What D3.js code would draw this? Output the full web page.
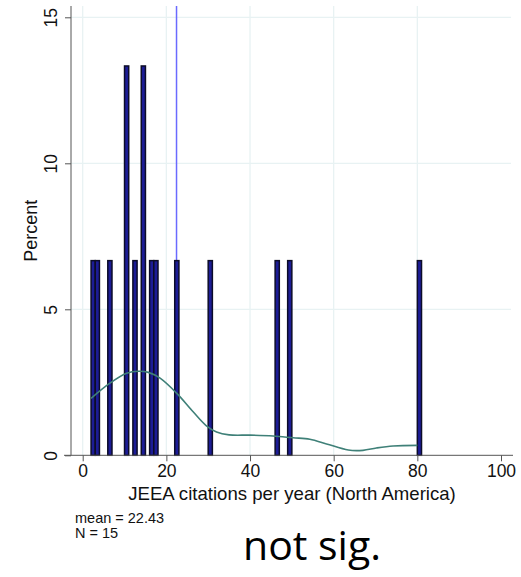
<!DOCTYPE html>
<html>
<head>
<meta charset="utf-8">
<script src="https://cdn.jsdelivr.net/npm/d3@7"></script>
<style>
  body { margin: 0; background: #fff; }
  svg { display: block; }
</style>
</head>
<body>
<div id="chart"></div>
<script>
const citations = [2.3, 3.2, 6.4, 10.3, 10.7, 12.4, 14.2, 14.8, 16.3, 17.6, 22.4, 30.2, 46.3, 49.15, 80.2];
// kernel density overlay (x, percent)
const density_x = [2.0, 6.5, 10.5, 13.3, 15.7, 18.5, 22.5, 26.4, 29.5, 32, 35, 40, 45.5, 50.3, 54.3, 58.3, 63.5, 67, 70.2, 74.2, 80];
const density_y = [1.95, 2.47, 2.81, 2.88, 2.84, 2.64, 2.12, 1.49, 1.02, 0.80, 0.70, 0.69, 0.66, 0.60, 0.55, 0.39, 0.18, 0.17, 0.25, 0.32, 0.34];
const x_ticks = [0, 20, 40, 60, 80, 100];
const y_ticks = [0, 5, 10, 15];

const width = 521, height = 577;
const font = "'Liberation Sans', Arial, sans-serif";

const x = d3.scaleLinear().domain([0, 100]).range([82.7, 501]);
const y = d3.scaleLinear().domain([0, 15]).range([455.3, 17.3]);

const svg = d3.select("#chart").append("svg")
    .attr("width", width)
    .attr("height", height)
    .attr("style", `font-family: ${font};`);

// grid
svg.append("g")
    .selectAll("line")
    .data(x_ticks.slice(0, -1))
    .join("line")
    .attr("x1", d => x(d)).attr("x2", d => x(d))
    .attr("y1", 6).attr("y2", y(0))
    .attr("stroke", "#e8f2f3").attr("stroke-width", 1.3);

svg.append("g")
    .selectAll("line")
    .data(y_ticks.slice(1))
    .join("line")
    .attr("x1", 71).attr("x2", 511)
    .attr("y1", d => y(d)).attr("y2", d => y(d))
    .attr("stroke", "#e8f2f3").attr("stroke-width", 1.3);

// mean line
const mean = d3.mean(citations);
svg.append("line")
    .attr("x1", x(mean)).attr("x2", x(mean))
    .attr("y1", 6).attr("y2", y(0))
    .attr("stroke", "#6a6aff").attr("stroke-width", 1.5);

// histogram, bin width 1
const bins = d3.bin()
    .domain([0, 100])
    .thresholds(d3.range(0, 101, 1))(citations)
    .filter(b => b.length > 0);

svg.append("g")
    .selectAll("rect")
    .data(bins)
    .join("rect")
    .attr("x", d => x(d.x0))
    .attr("width", d => x(d.x1) - x(d.x0))
    .attr("y", d => y(d.length / citations.length * 100))
    .attr("height", d => y(0) - y(d.length / citations.length * 100))
    .attr("fill", "#1c1c96")
    .attr("stroke", "#0c0c28")
    .attr("stroke-width", 1.5);

// density curve
svg.append("path")
    .datum(d3.zip(density_x, density_y))
    .attr("fill", "none")
    .attr("stroke", "#3f8078")
    .attr("stroke-width", 1.6)
    .attr("d", d3.line().x(d => x(d[0])).y(d => y(d[1])).curve(d3.curveCatmullRom));

// axes
const x_axis = svg.append("g")
    .attr("transform", `translate(0,${y(0)})`)
    .call(d3.axisBottom(x).tickValues(x_ticks).tickSize(6).tickPadding(3).tickSizeOuter(0));
x_axis.select(".domain").attr("d", "M64,0H513");
x_axis.selectAll("line, path").attr("stroke", "#555");
x_axis.selectAll("text").attr("font-size", 17.5).attr("fill", "#111")
    .attr("font-family", font);

const y_axis = svg.append("g")
    .attr("transform", "translate(71,0)")
    .call(d3.axisLeft(y).tickValues(y_ticks).tickSize(6).tickSizeOuter(0));
y_axis.select(".domain").attr("d", `M0,6V${y(0)}`);
y_axis.selectAll("line, path").attr("stroke", "#555");
y_axis.selectAll("text")
    .attr("font-size", 17.5).attr("fill", "#111")
    .attr("font-family", font)
    .attr("x", null).attr("dy", null)
    .attr("text-anchor", "middle")
    .attr("transform", "translate(-14.5,0) rotate(-90)");

// labels
svg.append("text")
    .attr("transform", `translate(37,${(y(0) + 6) / 2}) rotate(-90)`)
    .attr("text-anchor", "middle")
    .attr("font-size", 18).attr("fill", "#111")
    .text("Percent");

svg.append("text")
    .attr("x", 292).attr("y", 500)
    .attr("text-anchor", "middle")
    .attr("font-size", 18.6).attr("fill", "#111")
    .text("JEEA citations per year (North America)");

svg.append("text")
    .attr("x", 75).attr("y", 523)
    .attr("font-size", 14.5).attr("fill", "#111")
    .text(`mean = ${d3.format(".2f")(mean)}`);

svg.append("text")
    .attr("x", 75).attr("y", 538)
    .attr("font-size", 14.5).attr("fill", "#111")
    .text(`N = ${citations.length}`);

svg.append("text")
    .attr("x", 243).attr("y", 560)
    .attr("font-family", "'Open Sans', sans-serif")
    .attr("font-size", 41).attr("fill", "#000")
    .text("not sig.");
</script>
</body>
</html>
